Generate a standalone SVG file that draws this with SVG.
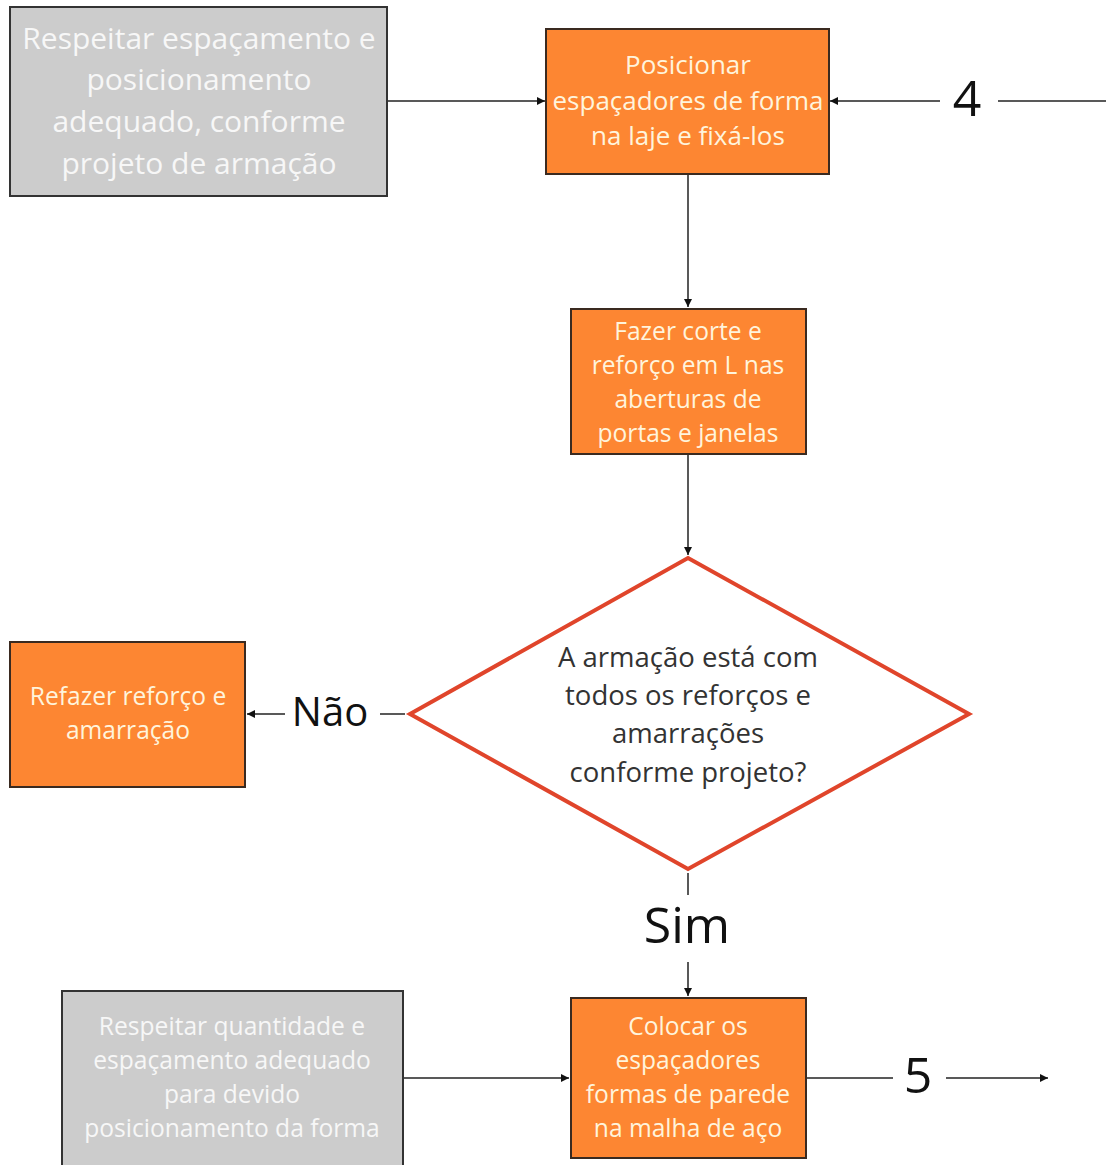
<svg xmlns="http://www.w3.org/2000/svg" width="1106" height="1165" viewBox="0 0 1106 1165">
  <style>
    .gray { fill: #cccccc; stroke: #333333; stroke-width: 2; }
    .orange { fill: #fd8632; stroke: #3a2a20; stroke-width: 2; }
    .diamond { fill: #ffffff; stroke: #e0452b; stroke-width: 4; }
    .t { font-family: "Open Sans", "Noto Sans", sans-serif; text-anchor: middle; dominant-baseline: central; }
    .tg { fill: #f7f7f7; font-size: 30px; }
    .tg2 { fill: #f7f7f7; font-size: 24.6px; }
    .to { fill: #fff4dc; font-size: 24.6px; font-weight: 500; }
    .to-lg { font-size: 26px; }
    .td { fill: #333333; font-size: 27.5px; }
    .lbl { fill: #111111; font-size: 50px; }
    .lbl2 { fill: #111111; font-size: 40px; }
    .conn { stroke: #222222; stroke-width: 1.5; fill: none; }
  </style>
  <defs>
    <marker id="arrow" viewBox="0 0 10 10" refX="10" refY="5" markerWidth="10" markerHeight="8" markerUnits="userSpaceOnUse" orient="auto">
      <path d="M0,0 L10,5 L0,10 z" fill="#111111"/>
    </marker>
  </defs>

  <rect width="1106" height="1165" fill="#ffffff"/>

  <g id="connectors">
    <line class="conn" x1="387" y1="101" x2="545" y2="101" marker-end="url(#arrow)"/>
    <line class="conn" x1="1106" y1="101" x2="998" y2="101"/>
    <line class="conn" x1="940" y1="101" x2="830" y2="101" marker-end="url(#arrow)"/>
    <line class="conn" x1="688" y1="175" x2="688" y2="307" marker-end="url(#arrow)"/>
    <line class="conn" x1="688" y1="455" x2="688" y2="555" marker-end="url(#arrow)"/>
    <line class="conn" x1="405" y1="714" x2="380" y2="714"/>
    <line class="conn" x1="285" y1="714" x2="247" y2="714" marker-end="url(#arrow)"/>
    <line class="conn" x1="688" y1="873" x2="688" y2="895"/>
    <line class="conn" x1="688" y1="962" x2="688" y2="996" marker-end="url(#arrow)"/>
    <line class="conn" x1="403" y1="1078" x2="569" y2="1078" marker-end="url(#arrow)"/>
    <line class="conn" x1="806" y1="1078" x2="893" y2="1078"/>
    <line class="conn" x1="946" y1="1078" x2="1048" y2="1078" marker-end="url(#arrow)"/>
    <text class="t lbl" x="967" y="97">4</text>
    <text class="t lbl2" x="330" y="710">Não</text>
    <text class="t lbl" x="687" y="924">Sim</text>
    <text class="t lbl" x="918" y="1074">5</text>
  </g>

  <g id="node-respeitar-espacamento">
    <rect class="gray" x="10" y="7" width="377" height="189"/>
    <text class="t tg" x="199" y="37">Respeitar espaçamento e</text>
    <text class="t tg" x="199" y="78">posicionamento</text>
    <text class="t tg" x="199" y="120">adequado, conforme</text>
    <text class="t tg" x="199" y="162">projeto de armação</text>
  </g>

  <g id="node-posicionar">
    <rect class="orange" x="546" y="29" width="283" height="145"/>
    <text class="t to to-lg" x="688" y="64">Posicionar</text>
    <text class="t to to-lg" x="688" y="100">espaçadores de forma</text>
    <text class="t to to-lg" x="688" y="135">na laje e fixá-los</text>
  </g>

  <g id="node-fazer-corte">
    <rect class="orange" x="571" y="309" width="235" height="145"/>
    <text class="t to" x="688" y="330">Fazer corte e</text>
    <text class="t to" x="688" y="364">reforço em L nas</text>
    <text class="t to" x="688" y="398">aberturas de</text>
    <text class="t to" x="688" y="432">portas e janelas</text>
  </g>

  <g id="node-decisao">
    <polygon class="diamond" points="688,558 969,714 688,869 410,714"/>
    <text class="t td" x="688" y="656">A armação está com</text>
    <text class="t td" x="688" y="694">todos os reforços e</text>
    <text class="t td" x="688" y="732">amarrações</text>
    <text class="t td" x="688" y="771">conforme projeto?</text>
  </g>

  <g id="node-refazer">
    <rect class="orange" x="10" y="642" width="235" height="145"/>
    <text class="t to" x="128" y="695">Refazer reforço e</text>
    <text class="t to" x="128" y="729">amarração</text>
  </g>

  <g id="node-colocar">
    <rect class="orange" x="571" y="998" width="235" height="160"/>
    <text class="t to" x="688" y="1025">Colocar os</text>
    <text class="t to" x="688" y="1059">espaçadores</text>
    <text class="t to" x="688" y="1093">formas de parede</text>
    <text class="t to" x="688" y="1127">na malha de aço</text>
  </g>

  <g id="node-respeitar-quantidade">
    <rect class="gray" x="62" y="991" width="341" height="180"/>
    <text class="t tg2" x="232" y="1025">Respeitar quantidade e</text>
    <text class="t tg2" x="232" y="1059">espaçamento adequado</text>
    <text class="t tg2" x="232" y="1093">para devido</text>
    <text class="t tg2" x="232" y="1127">posicionamento da forma</text>
  </g>
</svg>
